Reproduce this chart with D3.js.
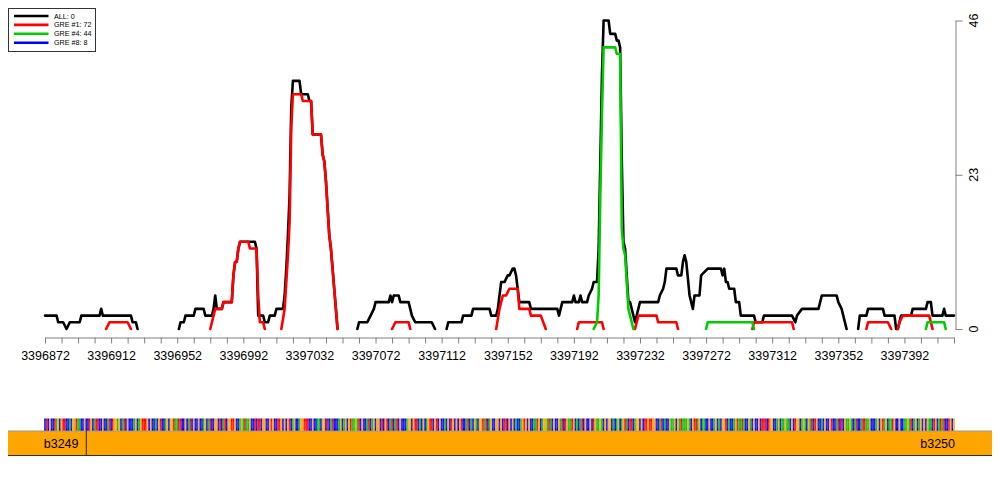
<!DOCTYPE html>
<html><head><meta charset="utf-8">
<script src="https://cdn.jsdelivr.net/npm/d3@7"></script>
<style>
body{margin:0;background:#fff}
svg{display:block}
text{font-family:'Liberation Sans',Arial,Helvetica,sans-serif}
</style>
</head><body>
<svg id="chart" width="1000" height="500"></svg>
<script>
// ---------------- data ----------------
const startPos = 3396872;
const endPos = 3397422;
const xTickValues = d3.range(3396872, 3397423, 10);
const xTickLabels = [3396872, 3396912, 3396952, 3396992, 3397032, 3397072, 3397112, 3397152, 3397192, 3397232, 3397272, 3397312, 3397352, 3397392];
const yTickValues = [0, 23, 46];
const legendLabels = ["ALL: 0", "GRE #1: 72", "GRE #4: 44", "GRE #8: 8"];

// coverage series: offsets from startPos, null = gap
const allOffset = [0,7,8,11,13,15,21,22,33,34,35,52,53,55,56,null,
  81,82,84,85,90,91,96,97,101,102,103,104,107,108,113,114,115,116,117,118,127,128,129,130,132,133,135,136,139,140,144,145,146,147,148,149,150,154,155,159,160,161,162,167,168,169,170,171,172,173,174,175,176,177,null,
  189,190,195,197,199,200,208,209,210,211,214,215,220,221,222,224,234,236,null,
  243,244,252,253,258,259,269,270,273,274,276,278,280,281,283,284,285,286,287,293,294,310,311,312,313,319,320,321,323,324,325,328,329,331,332,334,335,336,337,338,341,342,345,346,347,348,349,350,351,353,354,357,360,371,372,374,375,376,382,383,385,386,387,388,390,392,393,396,397,401,409,410,411,412,413,414,417,418,420,421,429,430,434,435,452,454,455,458,468,470,479,480,482,483,485,null,
  492,493,497,498,507,508,514,515,null,
  516,518,524,525,533,534,536,537,543,544,545,550];
const allCov = [2,2,1,1,0,1,1,2,2,3,2,2,1,1,0,null,
  0,1,1,2,2,3,3,2,2,3,5,3,3,4,4,8,10,10,12,13,13,12,2,2,2,1,1,2,2,3,3,5,9,14,20,33,37,37,35,35,34,34,29,29,26,25,22,18,14,12,9,6,3,0,null,
  0,1,1,2,3,4,4,5,4,5,5,4,4,3,2,1,1,0,null,
  0,1,1,2,2,3,3,2,2,3,7,7,8,8,9,9,8,6,4,4,3,3,2,3,4,4,5,4,4,5,4,4,5,6,7,7,12,25,38,46,46,44,44,43,43,42,25,13,12,4,4,1,4,4,5,6,7,9,9,8,8,10,11,10,5,3,5,5,8,9,9,8,9,7,7,6,6,4,4,2,2,1,1,2,2,1,2,3,3,5,5,4,3,2,0,null,
  0,2,2,3,3,2,2,0,null,
  0,2,2,3,3,4,4,2,2,3,2,2];

const gre1Offset = [37,39,50,52,null,
  100,103,107,108,113,114,115,116,117,118,123,124,128,129,130,132,133,null,
  143,145,146,147,148,149,150,155,156,161,162,167,168,169,170,171,172,173,174,175,176,177,null,
  210,212,220,221,null,
  273,275,277,279,281,286,287,293,294,300,303,null,
  322,323,337,338,null,
  357,359,370,371,382,383,null,
  428,429,452,453,null,
  497,498,510,512,null,
  516,517,519,535,537];
const gre1Cov = [0,1,1,0,null,
  0,3,3,4,4,8,10,10,12,13,13,12,12,5,1,1,0,null,
  0,3,7,11,16,30,35,35,34,34,29,29,26,25,22,18,14,12,9,6,3,0,null,
  0,1,1,0,null,
  0,3,5,5,6,6,3,3,2,2,0,null,
  0,1,1,0,null,
  0,2,2,1,1,0,null,
  0,1,1,0,null,
  0,1,1,0,null,
  0,1,2,2,0];

const gre4Offset = [332,334,335,336,337,338,345,346,348,349,350,351,353,354,356,null,
  400,401,428,429,null,
  533,534,544,545];
const gre4Cov = [0,1,5,20,32,42,42,41,41,15,12,11,3,2,0,null,
  0,1,1,0,null,
  0,1,1,0];

const gre8Offset = [];
const gre8Cov = [];

const genes = ["b3249", "b3250"];
const geneStart = [3396800, 3396897];
const geneEnd = [3396897, 3397480];

// reference sequence shown under the plot (one base per position)
const sequence =
  "CTCGCCTAGCGTTCCACGGTAACCGCCTGCATTCCGCCATCTGGAGCATC" +
  "GCCCAGCAGTTTGCGCCACGTCCAGCGGTAATTCCGCATCGCCGCCAGCA" +
  "TCCGGCTCATCGGTTGCCAGATAAGCCTCTTCGGCCGTGCCTTGCGCGTC" +
  "AGCCAGGTTTCCGCCAACGGCTCATCCCAGCAGCGTAAGATCGCCATCAG" +
  "CGGCTCGTCATCATCGCCCAGGCGTTCACGCAGTTCGTCGCCACGCTGCG" +
  "CGTCCATCACGACGGTATCAGCCGGCGCTTCGCGCACCAGTGCGCCAATG" +
  "CAGGATACGCCGATCTGAATGCACATCGCCGCTGAAGACGCGGCACAGCA" +
  "GTACTTCAGGCGCTTGTTGGCCATCACCGAAGCGATAAAGACGTTAGCAA" +
  "CCGCCAGCACGGTCACCAGTAATACCGACGCCGCTTTCTGGCCAGCAAGA" +
  "ACGCTGGCAGACGATCTGCCACGCCGTCCATCTCGAAGACATCCATTAAG" +
  "CCCAGCGTAGCAATGCCGCCAAGATCAGCAGCGCGAACTGCATATCCTGCG";

// ---------------- styles ----------------
const seriesColor = ["#000000", "#ff0000", "#00cd00", "#0000ff"];
const baseColor = {A: "#00c000", C: "#0000ff", G: "#ffa500", T: "#ff0000"};
const axisGray = "#808080";

// ---------------- drawing ----------------
const svg = d3.select("#chart");
const x = d3.scaleLinear().domain([startPos, endPos]).range([45, 954]);
const y = d3.scaleLinear().domain([0, 46]).range([329, 20.5]);

function toPoints(offs, vals) {
  return offs.map((o, i) => (o == null || vals[i] == null) ? null : [startPos + o, vals[i]]);
}
const series = [
  toPoints(allOffset, allCov),
  toPoints(gre1Offset, gre1Cov),
  toPoints(gre4Offset, gre4Cov),
  toPoints(gre8Offset, gre8Cov)
];
const line = d3.line().defined(d => d != null).x(d => x(d[0])).y(d => y(d[1]));

series.forEach((pts, i) => {
  if (!pts.length) return;
  svg.append("path").datum(pts)
    .attr("d", line)
    .attr("fill", "none")
    .attr("stroke", seriesColor[i])
    .attr("stroke-width", 2.6)
    .attr("stroke-linejoin", "round")
    .attr("stroke-linecap", "round");
});

// bottom axis
const xAxis = d3.axisBottom(x).tickValues(xTickValues).tickSize(6).tickSizeOuter(0)
  .tickFormat(d => xTickLabels.includes(d) ? String(d) : "");
const gx = svg.append("g").attr("transform", "translate(0,337.5)").call(xAxis);
gx.select(".domain").attr("stroke", axisGray);
gx.selectAll(".tick line").attr("stroke", axisGray);
gx.selectAll(".tick text").attr("y", 22).attr("dy", 0).attr("fill", "#000")
  .style("font-size", "12.5px").style("font-family", "'Liberation Sans',Arial,sans-serif");

// right axis
const yAxis = d3.axisRight(y).tickValues(yTickValues).tickSize(7).tickSizeOuter(0).tickFormat("");
const gy = svg.append("g").attr("transform", "translate(955.5,0)").call(yAxis);
gy.select(".domain").attr("stroke", axisGray);
gy.selectAll(".tick line").attr("stroke", axisGray);
svg.selectAll(".ylab").data(yTickValues).enter().append("text")
  .attr("class", "ylab")
  .attr("transform", d => `translate(978,${y(d)}) rotate(-90)`)
  .attr("text-anchor", "middle")
  .style("font-size", "12.5px")
  .text(d => d);

// legend
const lg = svg.append("g");
lg.append("rect").attr("x", 8.5).attr("y", 8.5).attr("width", 87).attr("height", 43)
  .attr("fill", "#fff").attr("stroke", "#333").attr("stroke-width", 1);
legendLabels.forEach((lab, i) => {
  const ly = 16 + i * 8.9;
  lg.append("line").attr("x1", 14).attr("x2", 48.5).attr("y1", ly).attr("y2", ly)
    .attr("stroke", seriesColor[i]).attr("stroke-width", 2.6);
  lg.append("text").attr("x", 54).attr("y", ly + 2.5).style("font-size", "7.2px").text(lab);
});

// gene track
const geneX0 = 8, geneX1 = 992;
const gTop = 431, gBot = 455;
genes.forEach((g, i) => {
  const gx0 = Math.max(geneX0, x(geneStart[i]));
  const gx1 = Math.min(geneX1, x(geneEnd[i]));
  svg.append("rect").attr("x", gx0).attr("y", gTop).attr("width", gx1 - gx0).attr("height", gBot - gTop)
    .attr("fill", "#ffa500");
});
svg.append("line").attr("x1", geneX0).attr("x2", geneX1).attr("y1", gTop).attr("y2", gTop)
  .attr("stroke", "#9a9a9a").attr("stroke-width", 1);
svg.append("line").attr("x1", geneX0).attr("x2", geneX1).attr("y1", gBot + 0.5).attr("y2", gBot + 0.5)
  .attr("stroke", "#3a2a10").attr("stroke-width", 1);
svg.append("line").attr("x1", x(geneEnd[0])).attr("x2", x(geneEnd[0])).attr("y1", gTop).attr("y2", gBot)
  .attr("stroke", "#222").attr("stroke-width", 1);
svg.append("text").attr("x", 78.5).attr("y", 448).attr("text-anchor", "end")
  .style("font-size", "12.5px").text(genes[0]);
svg.append("text").attr("x", 955).attr("y", 448).attr("text-anchor", "end")
  .style("font-size", "12.5px").text(genes[1]);

// sequence strip: one coloured glyph-bar per base
const bases = sequence.split("").slice(0, endPos - startPos + 1);
const bw = x(startPos + 1) - x(startPos);
const strip = svg.append("g");
strip.selectAll("rect").data(bases).enter().append("rect")
  .attr("x", (b, i) => x(startPos + i) - bw / 2)
  .attr("y", 418.5)
  .attr("width", bw)
  .attr("height", 12.2)
  .attr("fill", b => baseColor[b]);
// faint glyph counters (white inner strokes) to mimic compressed letters
strip.selectAll("line").data(bases).enter().append("line")
  .attr("x1", (b, i) => x(startPos + i))
  .attr("x2", (b, i) => x(startPos + i))
  .attr("y1", b => b === "T" ? 421.5 : 420.5)
  .attr("y2", b => b === "T" ? 430.7 : 428.5)
  .attr("stroke", "#fff")
  .attr("stroke-opacity", 0.4)
  .attr("stroke-width", 0.4);
</script>
</body></html>
